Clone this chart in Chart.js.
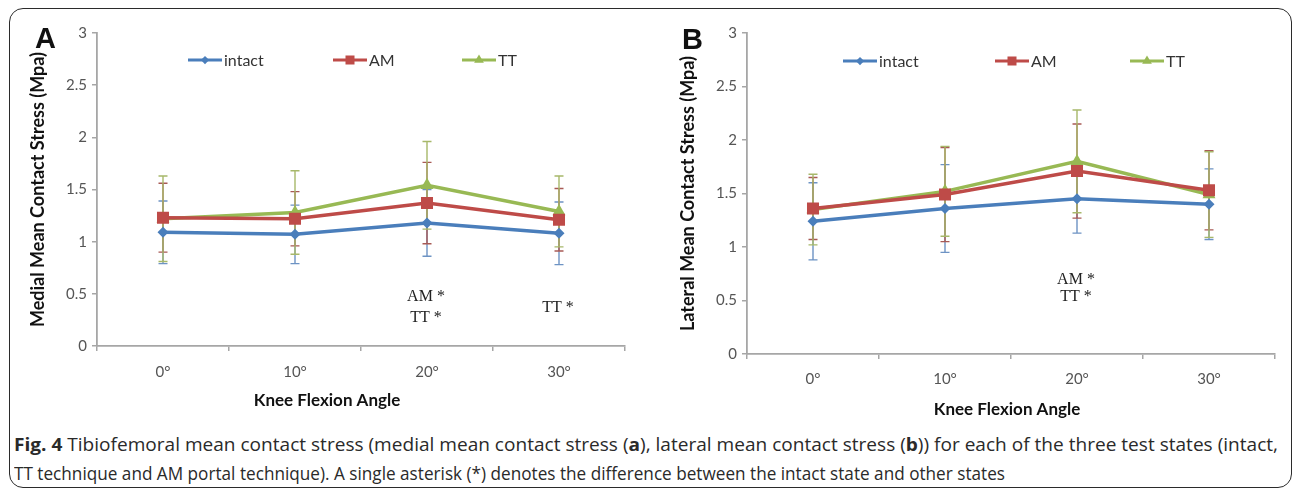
<!DOCTYPE html>
<html>
<head>
<meta charset="utf-8">
<script src="https://cdn.jsdelivr.net/npm/chart.js@4.4.0/dist/chart.umd.min.js"></script>
<style>
  html, body { margin: 0; padding: 0; background: #fff; }
  body { width: 1292px; height: 492px; position: relative; overflow: hidden; }
  #frame { position: absolute; left: 9px; top: 8px; width: 1283px; height: 480px; box-sizing: border-box;
           border: 1.6px solid #2b2b2b; border-radius: 14px; }
  .panel { position: absolute; top: 0; }
  #wrapA { left: 0; width: 645px; height: 425px; }
  #wrapB { left: 650px; width: 642px; height: 425px; }
  .letter { position: absolute; font: bold 29px 'Liberation Sans', Arial, sans-serif; color: #111; }
  .cap { position: absolute; left: 14px; white-space: nowrap; transform-origin: 0 0;
         font: 18px 'Open Sans', sans-serif; color: #2a2a2a; }
</style>
</head>
<body>
<div id="frame"></div>
<div class="panel" id="wrapA"><canvas id="chartA" width="645" height="425"></canvas></div>
<div class="panel" id="wrapB"><canvas id="chartB" width="642" height="425"></canvas></div>
<div class="letter" style="left:35px;top:22px">A</div>
<div class="letter" style="left:682px;top:23px">B</div>
<div class="cap" id="cap1" style="top:432px"><b>Fig. 4</b> Tibiofemoral mean contact stress (medial mean contact stress (<b>a</b>), lateral mean contact stress (<b>b</b>)) for each of the three test states (intact,</div>
<div class="cap" id="cap2" style="top:461px">TT technique and AM portal technique). A single asterisk (*) denotes the difference between the intact state and other states</div>
<script>
// knee flexion angles and axis ticks
const ANGLES = ['0°', '10°', '20°', '30°'];
const Y_MIN = 0, Y_MAX = 3, Y_STEP = 0.5;

// medial compartment (panel A), mean and SD in MPa
const MEDIAL_INTACT    = [1.09, 1.07, 1.18, 1.08];
const MEDIAL_INTACT_SD = [0.30, 0.28, 0.32, 0.30];
const MEDIAL_AM        = [1.23, 1.22, 1.37, 1.21];
const MEDIAL_AM_SD     = [0.33, 0.26, 0.39, 0.30];
const MEDIAL_TT        = [1.22, 1.28, 1.54, 1.29];
const MEDIAL_TT_SD     = [0.41, 0.40, 0.42, 0.34];

// lateral compartment (panel B)
const LATERAL_INTACT    = [1.24, 1.36, 1.45, 1.40];
const LATERAL_INTACT_SD = [0.36, 0.41, 0.32, 0.33];
const LATERAL_AM        = [1.36, 1.49, 1.71, 1.53];
const LATERAL_AM_SD     = [0.29, 0.44, 0.44, 0.37];
const LATERAL_TT        = [1.35, 1.52, 1.80, 1.49];
const LATERAL_TT_SD     = [0.33, 0.42, 0.48, 0.40];

// significance notes: [angle, y value, text]
const MEDIAL_NOTES  = [['20°', 0.47, 'AM *'], ['20°', 0.27, 'TT *'], ['30°', 0.37, 'TT *']];
const LATERAL_NOTES = [['20°', 0.69, 'AM *'], ['20°', 0.53, 'TT *']];

const SERIES = ['intact', 'AM', 'TT'];

const COLORS = {
  intact: { line: '#4a7ebb', err: '#6d93c4' },
  AM:     { line: '#be4b48', err: '#a85a55' },
  TT:     { line: '#98b954', err: '#a7b86a' },
};
const POINT = {
  intact: { style: 'rectRot', r: 5.5 },
  AM:     { style: 'rect',    r: 8.5 },
  TT:     { style: 'triangle', r: 7.5 },
};

const SANS = "Lato, 'Open Sans', sans-serif";

// error bars, drawn under the lines
const errorBars = {
  id: 'errorBars',
  beforeDatasetsDraw(chart) {
    const { ctx, scales: { x, y } } = chart;
    ctx.save();
    ctx.lineWidth = 1.4;
    chart.data.datasets.forEach(ds => {
      ctx.strokeStyle = COLORS[ds.label].err;
      ds.data.forEach((v, i) => {
        const px = x.getPixelForValue(i);
        const top = y.getPixelForValue(v + ds.sd[i]);
        const bot = y.getPixelForValue(v - ds.sd[i]);
        ctx.beginPath();
        ctx.moveTo(px, top); ctx.lineTo(px, bot);
        ctx.moveTo(px - 4.5, top); ctx.lineTo(px + 4.5, top);
        ctx.moveTo(px - 4.5, bot); ctx.lineTo(px + 4.5, bot);
        ctx.stroke();
      });
    });
    ctx.restore();
  },
};

// excel-style legend, x title and notes
const extras = {
  id: 'extras',
  afterDraw(chart, args, o) {
    const { ctx, scales: { x, y } } = chart;
    ctx.save();
    // legend
    ctx.font = '16px ' + SANS;
    ctx.textBaseline = 'middle';
    o.legendX.forEach((lx, i) => {
      const s = SERIES[i];
      const ly = o.legendY;
      ctx.strokeStyle = COLORS[s].line;
      ctx.lineWidth = 3;
      ctx.beginPath(); ctx.moveTo(lx, ly); ctx.lineTo(lx + 34, ly); ctx.stroke();
      ctx.fillStyle = COLORS[s].line;
      Chart.helpers.drawPoint(ctx, { pointStyle: POINT[s].style, radius: POINT[s].r * 0.75, borderWidth: 0 }, lx + 17, ly);
      ctx.fillStyle = '#333';
      ctx.fillText(s, lx + 36, ly + 1);
    });
    // x axis title
    ctx.font = 'bold 17px ' + SANS;
    ctx.fillStyle = '#111';
    ctx.textAlign = 'center';
    ctx.fillText('Knee Flexion Angle', o.xTitle[0], o.xTitle[1]);
    // significance notes
    ctx.font = "16px 'Liberation Serif', 'Times New Roman', serif";
    ctx.fillStyle = '#222';
    o.notes.forEach(([cat, v, t]) => {
      ctx.fillText(t, x.getPixelForValue(ANGLES.indexOf(cat)) - 1, y.getPixelForValue(v));
    });
    ctx.restore();
  },
};

function dataset(label, values, sd) {
  return {
    label,
    data: values,
    sd,
    borderColor: COLORS[label].line,
    backgroundColor: COLORS[label].line,
    borderWidth: 3.5,
    pointStyle: POINT[label].style,
    pointRadius: POINT[label].r,
    pointBorderWidth: 0,
    tension: 0,
  };
}

function makeChart(id, cfg) {
  const axisColor = '#a6a6a6';
  return new Chart(document.getElementById(id), {
    type: 'line',
    data: {
      labels: ANGLES,
      datasets: [
        dataset('intact', cfg.intact, cfg.intactSd),
        dataset('AM', cfg.am, cfg.amSd),
        dataset('TT', cfg.tt, cfg.ttSd),
      ],
    },
    options: {
      responsive: false,
      animation: false,
      layout: { padding: { left: 26, top: 33, right: cfg.right, bottom: 0 } },
      plugins: {
        legend: { display: false },
        tooltip: { enabled: false },
        extras: { legendX: cfg.legendX, legendY: cfg.legendY, xTitle: cfg.xTitle, notes: cfg.notes },
      },
      scales: {
        x: {
          type: 'category',
          offset: true,
          grid: { offset: true, drawOnChartArea: false, tickLength: 5, color: axisColor, lineWidth: 1.5 },
          border: { color: axisColor, width: 1.8 },
          ticks: { color: '#555', font: { family: SANS, size: 15 }, padding: cfg.xPad, maxRotation: 0 },
          afterFit: s => { s.height = cfg.xHeight; },
        },
        y: {
          min: Y_MIN,
          max: Y_MAX,
          grid: { drawOnChartArea: false, tickLength: 5, color: axisColor, lineWidth: 1.5 },
          border: { color: axisColor, width: 1.8 },
          ticks: { stepSize: Y_STEP, color: '#555', font: { family: SANS, size: 15 }, padding: 5, callback: v => String(v) },
          title: { display: true, text: cfg.yTitle, color: '#111', font: { family: SANS, size: 18, weight: 'bold' }, padding: 1 },
          afterFit: s => { s.width = 71; },
        },
      },
    },
    plugins: [errorBars, extras],
  });
}

makeChart('chartA', {
  intact: MEDIAL_INTACT, intactSd: MEDIAL_INTACT_SD,
  am: MEDIAL_AM, amSd: MEDIAL_AM_SD,
  tt: MEDIAL_TT, ttSd: MEDIAL_TT_SD,
  yTitle: 'Medial Mean Contact Stress (Mpa)',
  notes: MEDIAL_NOTES,
  right: 20, xHeight: 79, xPad: 12,
  legendX: [188, 333, 462], legendY: 60,
  xTitle: [327, 401],
});

makeChart('chartB', {
  intact: LATERAL_INTACT, intactSd: LATERAL_INTACT_SD,
  am: LATERAL_AM, amSd: LATERAL_AM_SD,
  tt: LATERAL_TT, ttSd: LATERAL_TT_SD,
  yTitle: 'Lateral Mean Contact Stress (Mpa)',
  notes: LATERAL_NOTES,
  right: 17, xHeight: 71, xPad: 11,
  legendX: [193, 345, 480], legendY: 61,
  xTitle: [357, 410],
});

// squeeze caption lines to the reference widths
[['cap1', 1264], ['cap2', 991]].forEach(([id, w]) => {
  const el = document.getElementById(id);
  el.style.transform = `scaleX(${w / el.getBoundingClientRect().width})`;
});
</script>
</body>
</html>
